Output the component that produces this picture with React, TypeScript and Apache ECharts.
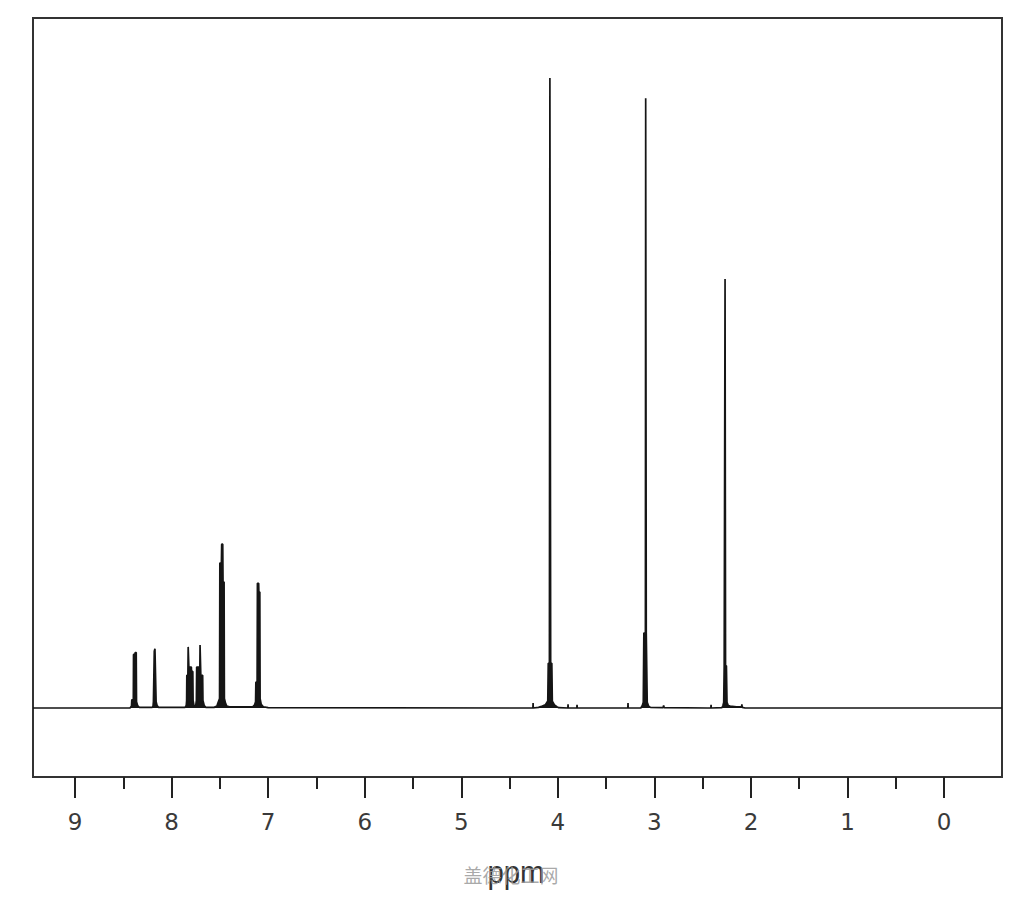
import React, { useEffect, useRef } from "react";
import * as echarts from "echarts";

// Tick positions (ppm)
const majorTicks = [0, 1, 2, 3, 4, 5, 6, 7, 8, 9];
const minorTicks = [0.5, 1.5, 2.5, 3.5, 4.5, 5.5, 6.5, 7.5, 8.5];

// Spectrum trace segments: [ppm, relative intensity]
const baseStart = [[9.435, 0], [8.43, 0]];
const dbl838 = [[8.415, 0.3], [8.412, 1.3], [8.396, 1.3], [8.394, 8.5], [8.380, 8.5], [8.377, 8.8], [8.366, 8.8], [8.363, 1.0], [8.352, 0.4], [8.335, 0.1]];
const sgl818 = [[8.2, 0.1], [8.192, 0.3], [8.188, 1.0], [8.182, 1.0], [8.179, 9.0], [8.172, 9.4], [8.166, 9.4], [8.160, 1.0], [8.150, 0.4], [8.135, 0.1]];
const m783 = [[7.86, 0.1], [7.848, 0.4], [7.844, 1.2], [7.842, 5.2], [7.831, 5.2], [7.828, 9.7], [7.824, 9.7], [7.821, 6.5], [7.795, 6.5], [7.793, 5.8], [7.78, 5.8], [7.777, 1.2], [7.768, 0.4], [7.755, 0.3]];
const m772 = [[7.75, 0.4], [7.743, 1.2], [7.74, 6.5], [7.707, 6.5], [7.705, 10.0], [7.7, 10.0], [7.697, 5.2], [7.678, 5.2], [7.675, 1.2], [7.662, 0.4], [7.645, 0.1]];
const m747 = [[7.56, 0.1], [7.53, 0.3], [7.522, 0.7], [7.503, 1.5], [7.5, 23.0], [7.484, 23.0], [7.481, 26.0], [7.47, 26.0], [7.467, 20.0], [7.456, 20.0], [7.453, 1.5], [7.44, 0.7], [7.428, 0.3], [7.4, 0.2]];
const m709 = [[7.16, 0.2], [7.14, 0.5], [7.13, 1.0], [7.127, 4.1], [7.114, 4.1], [7.111, 19.8], [7.098, 19.8], [7.096, 18.4], [7.086, 18.4], [7.083, 1.5], [7.072, 0.6], [7.05, 0.2], [7.0, 0.05], [4.3, 0]];
const s409 = [[4.258, 0], [4.256, 0.8], [4.254, 0], [4.2, 0.1], [4.16, 0.3], [4.13, 0.5], [4.104, 1.1], [4.099, 7.1], [4.087, 7.1], [4.082, 100], [4.079, 100], [4.074, 7.1], [4.062, 7.1], [4.057, 1.1], [4.035, 0.5], [4.01, 0.2], [3.99, 0.05], [3.896, 0], [3.894, 0.6], [3.892, 0], [3.803, 0], [3.801, 0.5], [3.799, 0], [3.275, 0], [3.273, 0.8], [3.271, 0]];
const s310 = [[3.14, 0], [3.125, 0.4], [3.115, 0.9], [3.109, 11.9], [3.093, 11.9], [3.09, 96.8], [3.087, 96.8], [3.084, 11.9], [3.08, 11.9], [3.074, 0.9], [3.06, 0.3], [3.04, 0.1], [2.91, 0.05], [2.904, 0.4], [2.898, 0.05], [2.45, 0]];
const s227 = [[2.415, 0], [2.413, 0.5], [2.411, 0], [2.3, 0.05], [2.29, 0.4], [2.282, 0.9], [2.277, 6.7], [2.27, 6.7], [2.268, 68.1], [2.265, 68.1], [2.263, 6.7], [2.254, 6.7], [2.248, 0.9], [2.235, 0.4], [2.215, 0.3], [2.15, 0.2], [2.097, 0.2], [2.094, 0.6], [2.09, 0.1], [2.06, 0], [-0.6, 0]];

const axisTitle = "ppm";
const watermark = "盖德化工网";

export default function App() {
  const ref = useRef<HTMLDivElement>(null);
  useEffect(() => {
    const chart = echarts.init(ref.current!, null, { renderer: "svg" });
    const trace = [
      ...baseStart, ...dbl838, ...sgl818, ...m783, ...m772, ...m747, ...m709, ...s409, ...s310, ...s227,
    ];
    chart.setOption({
      animation: false,
      backgroundColor: "#ffffff",
      grid: {
        left: 33, top: 18, width: 969, height: 759,
        show: true, borderColor: "#333", borderWidth: 2, backgroundColor: "transparent",
      },
      xAxis: [
        {
          type: "value", inverse: true, min: -0.6, max: 9.435, position: "bottom",
          axisLine: { show: false, onZero: false },
          splitLine: { show: false },
          axisTick: { show: true, length: 21, lineStyle: { color: "#222", width: 2 }, customValues: majorTicks },
          axisLabel: {
            customValues: majorTicks, margin: 33, fontSize: 23, color: "#3a3a3a",
            fontFamily: "DejaVu Sans", formatter: (v: number) => String(v),
          },
        },
        {
          type: "value", inverse: true, min: -0.6, max: 9.435, position: "bottom",
          axisLine: { show: false, onZero: false },
          splitLine: { show: false },
          axisTick: { show: true, length: 12, lineStyle: { color: "#222", width: 2 }, customValues: minorTicks },
          axisLabel: { show: false },
        },
      ],
      yAxis: { type: "value", min: -10.95, max: 109.52, show: false },
      series: [
        {
          type: "line", xAxisIndex: 0, data: trace, showSymbol: false, symbol: "none",
          lineStyle: { color: "#151515", width: 1.7 },
          areaStyle: { color: "#151515", opacity: 1, origin: 0 },
          clip: true,
        },
      ],
      graphic: [
        {
          type: "text", x: 516, y: 872, scaleX: 0.92, z: 10,
          style: { text: axisTitle, font: "32px 'Liberation Sans'", fill: "#333", align: "center", verticalAlign: "middle" },
        },
        {
          type: "text", x: 511, y: 874, z: 11,
          style: { text: watermark, font: "19px 'Noto Sans CJK SC'", fill: "#9a9a9a", opacity: 0.85, align: "center", verticalAlign: "middle" },
        },
      ],
    });
    return () => chart.dispose();
  }, []);
  return (
    <div
      ref={ref}
      style={{ position: "fixed", left: 0, top: 0, width: 1024, height: 900, background: "#fff" }}
    />
  );
}
